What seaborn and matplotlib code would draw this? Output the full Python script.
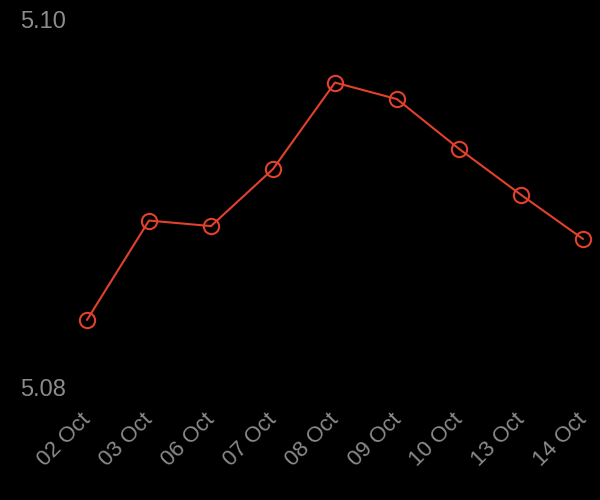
import pandas as pd
import matplotlib.pyplot as plt
import matplotlib.transforms as mtransforms
import seaborn as sns

# Dane
dates = ["02 Oct", "03 Oct", "06 Oct", "07 Oct", "08 Oct", "09 Oct", "10 Oct", "13 Oct", "14 Oct"]
values = [5.0837, 5.0891, 5.0888, 5.0919, 5.0966, 5.0957, 5.0930, 5.0905, 5.0881]
y_ticks = [5.08, 5.10]
y_tick_labels = ["5.08", "5.10"]

df = pd.DataFrame({"date": dates, "value": values})

sns.set_style("dark", {"axes.facecolor": "black", "figure.facecolor": "black"})
plt.rcParams["font.family"] = ["Liberation Sans", "DejaVu Sans"]

fig = plt.figure(figsize=(6, 5), dpi=100)
ax = fig.add_axes([0, 0.224, 1, 0.736])
ax.set_facecolor("black")

sns.lineplot(data=df, x="date", y="value", ax=ax, color="#e2412b", linewidth=1.5,
             marker="o", markersize=11, markerfacecolor="none",
             markeredgecolor="#e2412b", markeredgewidth=1.5)

ax.set_xlim(-1.403, 8.274)
ax.set_ylim(5.08, 5.10)
ax.set_yticks(y_ticks)
ax.set_yticklabels(y_tick_labels)
ax.tick_params(axis="y", length=0, pad=-14.4, labelsize=17, labelcolor="#8c8c8c")
for lab in ax.get_yticklabels():
    lab.set_horizontalalignment("left")
ax.tick_params(axis="x", length=0, pad=8, labelsize=16, labelcolor="#8c8c8c")
shift = mtransforms.ScaledTranslation(-6.5 / 100, -10.5 / 100, fig.dpi_scale_trans)
for lab in ax.get_xticklabels():
    lab.set_rotation(45)
    lab.set_horizontalalignment("right")
    lab.set_rotation_mode("anchor")
    lab.set_transform(lab.get_transform() + shift)
ax.set_xlabel("")
ax.set_ylabel("")
ax.grid(False)
for s in ax.spines.values():
    s.set_visible(False)

fig.savefig("out.png", dpi=100, facecolor="black")
